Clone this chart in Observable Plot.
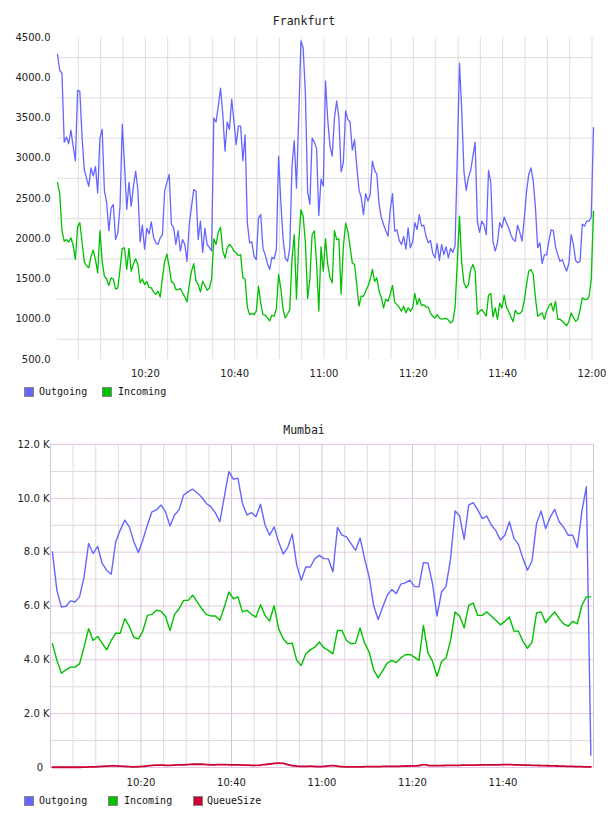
<!DOCTYPE html>
<html>
<head>
<meta charset="utf-8">
<script src="https://cdn.jsdelivr.net/npm/d3@7"></script>
<script src="https://cdn.jsdelivr.net/npm/@observablehq/plot@0.6"></script>
<style>
  body { margin: 0; background: #fff; }
  #page { position: relative; width: 608px; height: 816px; overflow: hidden; background: #fff; }
  .chart { position: absolute; left: 0; }
  .title { position: absolute; left: 0; width: 608px; text-align: center; font: 11.5px "DejaVu Sans Mono", monospace; line-height: 1; color: #222; white-space: pre; }
  .legend-text { position: absolute; font: 10px "DejaVu Sans Mono", monospace; line-height: 1; color: #111; white-space: pre; }
  .swatch { position: absolute; width: 8px; height: 8px; border: 1px solid #858585; }
</style>
</head>
<body>
<div id="page"></div>
<script>
// ---- Frankfurt: one sample every 30 s ----
const frankfurtStart = "10:00:20";
const frankfurtStepSeconds = 30;
const frankfurtOutgoing = [
  4292,4090,4060,3200,3264,3180,3350,3150,2970,3844,
  3830,3260,2860,2750,2650,2880,2780,2900,2570,3250,
  3360,2600,2450,2100,2380,2426,1990,2070,2400,3421,
  2924,2364,2700,2405,2650,2840,2600,1960,2170,1870,
  2130,2060,2210,2020,1950,1930,2010,2050,2600,2700,
  2800,2180,2140,1930,2100,1850,1990,1930,1720,2180,
  2400,2610,2590,1990,2220,1830,2130,1930,1890,1850,
  3500,3450,3650,3870,3550,3090,3450,3360,3730,3460,
  3170,3400,3400,2970,3290,2200,1950,1960,1780,1740,
  2260,2300,1880,1800,1690,1620,1770,1750,1866,3027,
  2450,2000,1760,1720,1880,2900,3220,2630,3500,4458,
  4370,3800,2580,2430,3250,3200,3120,2290,2740,2654,
  3960,3480,3150,3027,3500,3711,3500,2830,2950,3587,
  3483,3450,3100,3230,2900,2610,2510,2300,2560,2467,
  2550,2965,2850,2800,2426,2260,2177,2100,2032,2364,
  2560,2094,2110,1980,1928,2030,1870,2136,1887,1960,
  2200,2115,2300,2157,2170,2030,1950,1980,1820,1763,
  1940,1730,1928,1804,1900,1763,1880,1830,1908,3000,
  4180,3600,2830,2600,2758,2850,3027,3200,2219,2080,
  2219,2170,2050,2850,2700,1960,1846,1950,2200,2136,
  2270,2200,2136,2050,1990,1970,2170,2080,1970,2250,
  2580,2799,2880,2720,2390,1890,1950,1690,1800,1800,
  1970,2110,2100,1900,1800,1721,1740,1665,1597,1700,
  2050,1928,1730,1701,1721,2180,2157,2220,2219,2270,
  3380
];
const frankfurtIncoming = [
  2696,2560,2100,1970,1990,1960,2011,1920,1742,2150,
  2200,1960,1710,1665,1640,1780,1860,1740,1576,2100,
  1720,1535,1500,1420,1514,1500,1375,1390,1620,1880,
  1887,1620,1880,1597,1690,1750,1680,1450,1500,1431,
  1470,1395,1390,1340,1310,1348,1275,1520,1720,1810,
  1650,1465,1452,1369,1369,1380,1327,1280,1216,1431,
  1597,1690,1480,1430,1340,1472,1420,1360,1385,1500,
  2000,1929,2080,2140,1850,1760,1887,1929,1900,1846,
  1825,1790,1804,1514,1500,1150,1058,1070,1058,1100,
  1410,1200,1058,1050,1016,980,1050,1037,1130,1556,
  1380,1120,1016,1065,1120,1750,2050,1250,1950,2360,
  2280,1950,1260,1500,2050,2100,1700,1100,1900,1597,
  2000,1680,1520,1452,2100,1990,2000,1310,1900,2190,
  2094,1900,1700,1680,1430,1162,1286,1286,1348,1410,
  1490,1618,1470,1514,1348,1270,1141,1250,1224,1310,
  1420,1210,1182,1150,1100,1162,1080,1141,1100,1141,
  1320,1182,1260,1170,1182,1150,1150,1079,1037,1016,
  1058,1016,1000,1008,1010,990,954,975,1141,1700,
  2281,1700,1450,1390,1430,1620,1680,1600,1058,1100,
  1120,1079,1040,1300,1320,1030,1141,1000,1200,1141,
  1300,1150,1100,1030,970,1110,1070,1070,1100,1230,
  1430,1597,1618,1560,1265,1037,1060,1079,1000,1100,
  1162,1200,1100,1224,1000,1000,975,950,920,975,
  1079,1020,975,1000,1120,1265,1250,1244,1280,1500,
  2343
];
const frankfurtTimeTicks = ["10:20", "10:40", "11:00", "11:20", "11:40", "12:00"];
const frankfurtValueTicks = [500, 1000, 1500, 2000, 2500, 3000, 3500, 4000, 4500];

// ---- Mumbai: one sample per minute ----
const mumbaiStart = "10:00:25";
const mumbaiStepSeconds = 60;
const mumbaiOutgoing = [
  8010,6580,5960,5990,6190,6150,6340,7080,8320,7950,
  8220,7580,7330,7180,8390,8820,9190,8940,8390,7990,
  8450,9010,9500,9570,9750,9500,8970,9380,9570,10120,
  10250,10340,10210,10040,9810,9690,9470,9130,10060,10990,
  10710,10750,9810,9380,9470,9320,9780,9010,8630,8940,
  8390,7930,8170,8670,7520,6960,7450,7450,7760,7880,
  7760,7750,7270,8920,8630,8570,8320,8070,8530,7760,
  7080,6020,5500,5960,6400,6610,6460,6810,6860,6960,
  6730,6710,7610,7600,6830,5630,6520,6730,7760,9530,
  9350,8480,9750,9840,9570,9250,9340,9010,8800,8450,
  8630,9130,8510,8290,7760,7330,7680,9070,9530,8880,
  9290,9590,9130,8920,8630,8630,8170,9500,10430,460
];
const mumbaiIncoming = [
  4600,3980,3500,3630,3730,3730,3850,4470,5160,4720,
  4870,4620,4370,4720,4990,4990,5530,5240,4840,4780,
  5070,5650,5690,5840,5810,5610,5090,5690,5900,6210,
  6210,6400,6150,5900,5690,5630,5630,5470,5960,6520,
  6270,6340,5780,5840,5690,5590,6050,5650,5440,6010,
  5160,4780,4600,4620,3980,3790,4220,4370,4470,4660,
  4450,4350,4220,5090,5090,4720,4600,4620,5180,4620,
  4290,3630,3330,3600,3880,3980,3900,4070,4190,4200,
  4100,3980,5280,4260,3950,3390,3940,4070,4720,5780,
  5630,5190,6020,6110,5650,5650,5780,5630,5470,5300,
  5430,5590,5070,5060,4680,4430,4660,5740,5780,5380,
  5590,5780,5530,5340,5250,5430,5340,6020,6340,6340
];
const mumbaiQueueSize = [
  10,10,10,10,10,10,10,15,20,20,
  30,40,50,60,60,50,40,30,20,30,
  40,60,80,90,90,80,80,90,100,100,
  110,120,120,120,110,100,100,110,110,100,
  100,100,90,90,80,80,90,110,130,150,
  160,150,110,70,50,40,40,50,40,30,
  40,60,70,50,30,20,20,20,20,30,
  30,30,30,40,40,40,40,50,50,60,
  60,70,110,80,70,70,70,80,80,80,
  80,90,90,90,90,100,100,100,100,100,
  110,110,100,100,90,90,80,80,70,70,
  60,60,50,50,40,40,30,30,20,20
];
const mumbaiTimeTicks = ["10:20", "10:40", "11:00", "11:20", "11:40"];
const mumbaiWindow = ["10:00", "12:00"];
const mumbaiValueTicks = [0, 2000, 4000, 6000, 8000, 10000, 12000];

const seriesColors = { Outgoing: "#6666ff", Incoming: "#00c000", QueueSize: "#cc0033" };

// clock time on a fixed day, in UTC
function at(hms) {
  const [h, m, s = 0] = hms.split(":").map(Number);
  return new Date(Date.UTC(2014, 0, 1, h, m, s));
}
function timeline(start, step, n) {
  const t0 = at(start).getTime();
  return d3.range(n).map(i => new Date(t0 + i * step * 1000));
}
const hm = d3.utcFormat("%H:%M");
const page = document.getElementById("page");

function place(el, top) {
  el.classList.add("chart");
  el.style.top = top + "px";
  page.appendChild(el);
}
function addText(cls, text, left, top) {
  const d = document.createElement("div");
  d.className = cls;
  d.textContent = text;
  if (left != null) d.style.left = left + "px";
  d.style.top = top + "px";
  page.appendChild(d);
}
function addSwatch(color, left, top) {
  const d = document.createElement("div");
  d.className = "swatch";
  d.style.left = left + "px";
  d.style.top = top + "px";
  d.style.background = color;
  page.appendChild(d);
}

// ---------- Frankfurt ----------
const fTimes = timeline(frankfurtStart, frankfurtStepSeconds, frankfurtOutgoing.length);
const fRows = fTimes.flatMap((t, i) => [
  { t, v: frankfurtOutgoing[i], s: "Outgoing" },
  { t, v: frankfurtIncoming[i], s: "Incoming" }
]);
const fGridX = d3.utcMinute.every(5).range(fTimes[0], fTimes[fTimes.length - 1]);
const fGridY = d3.range(750, 4500, 500);

const frankfurt = Plot.plot({
  width: 608, height: 385,
  marginLeft: 57, marginRight: 15, marginTop: 37, marginBottom: 26,
  style: { fontFamily: "'DejaVu Sans', sans-serif", fontSize: "10px", color: "#222", background: "transparent", overflow: "visible" },
  x: {
    type: "utc", domain: [fTimes[0], fTimes[fTimes.length - 1]],
    ticks: frankfurtTimeTicks.map(at), tickFormat: hm, tickSize: 0, tickPadding: 10, label: null
  },
  y: {
    domain: [500, 4500], ticks: frankfurtValueTicks, tickFormat: d3.format(".1f"),
    tickSize: 0, tickPadding: 7, label: null
  },
  marks: [
    Plot.ruleY(fGridY, { stroke: "#dedede", strokeWidth: 1 }),
    Plot.ruleX(fGridX, { stroke: "#dedede", strokeWidth: 1 }),
    Plot.line(fRows.filter(d => d.s === "Outgoing"), { x: "t", y: "v", stroke: seriesColors.Outgoing, strokeWidth: 1.3 }),
    Plot.line(fRows.filter(d => d.s === "Incoming"), { x: "t", y: "v", stroke: seriesColors.Incoming, strokeWidth: 1.3 })
  ]
});
place(frankfurt, 0);

// ---------- Mumbai ----------
const mTimes = timeline(mumbaiStart, mumbaiStepSeconds, mumbaiOutgoing.length);
const mRows = mTimes.flatMap((t, i) => [
  { t, v: mumbaiOutgoing[i], s: "Outgoing" },
  { t, v: mumbaiIncoming[i], s: "Incoming" },
  { t, v: mumbaiQueueSize[i], s: "QueueSize" }
]);
const [mFrom, mTo] = mumbaiWindow.map(at);
const mAllMinutes = d3.utcMinute.every(5).range(mFrom, new Date(+mTo + 1));
const mMajorX = mAllMinutes.filter(d => d.getUTCMinutes() % 20 === 0);
const mMinorX = mAllMinutes.filter(d => d.getUTCMinutes() % 20 !== 0);
const mMinorY = d3.range(1000, 12000, 2000);

const mumbai = Plot.plot({
  width: 608, height: 395,
  marginLeft: 50, marginRight: 15, marginTop: 44, marginBottom: 28,
  style: { fontFamily: "'DejaVu Sans', sans-serif", fontSize: "10px", color: "#222", background: "transparent", overflow: "visible" },
  x: {
    type: "utc", domain: [mFrom, mTo],
    ticks: mumbaiTimeTicks.map(at), tickFormat: hm, tickSize: 0, tickPadding: 11, label: null
  },
  y: {
    domain: [0, 12000], ticks: mumbaiValueTicks,
    tickFormat: d => d === 0 ? "0\u2007" : (d / 1000).toFixed(1) + " K",
    tickSize: 0, tickPadding: 1, label: null
  },
  marks: [
    Plot.ruleY(mMinorY, { stroke: "#dcdcdc", strokeWidth: 1 }),
    Plot.ruleX(mMinorX, { stroke: "#dcdcdc", strokeWidth: 1 }),
    Plot.ruleY(mumbaiValueTicks, { stroke: "#e2c8e2", strokeWidth: 1 }),
    Plot.ruleX(mMajorX, { stroke: "#dcc0dc", strokeWidth: 1 }),
    Plot.line(mRows.filter(d => d.s === "Outgoing"), { x: "t", y: "v", stroke: seriesColors.Outgoing, strokeWidth: 1.4 }),
    Plot.line(mRows.filter(d => d.s === "Incoming"), { x: "t", y: "v", stroke: seriesColors.Incoming, strokeWidth: 1.4 }),
    Plot.line(mRows.filter(d => d.s === "QueueSize"), { x: "t", y: "v", stroke: seriesColors.QueueSize, strokeWidth: 1.8, curve: "monotone-x" })
  ]
});
place(mumbai, 400);

// ---------- titles and legends ----------
addText("title", "Frankfurt", null, 16.3);
addText("title", "Mumbai", null, 424.8);

addSwatch(seriesColors.Outgoing, 24, 387);
addText("legend-text", "Outgoing", 39, 387);
addSwatch(seriesColors.Incoming, 102, 387);
addText("legend-text", "Incoming", 118, 387);

addSwatch(seriesColors.Outgoing, 24, 795.5);
addText("legend-text", "Outgoing", 39, 795.5);
addSwatch(seriesColors.Incoming, 108, 795.5);
addText("legend-text", "Incoming", 124, 795.5);
addSwatch(seriesColors.QueueSize, 193, 795.5);
addText("legend-text", "QueueSize", 207, 795.5);
</script>
</body>
</html>
